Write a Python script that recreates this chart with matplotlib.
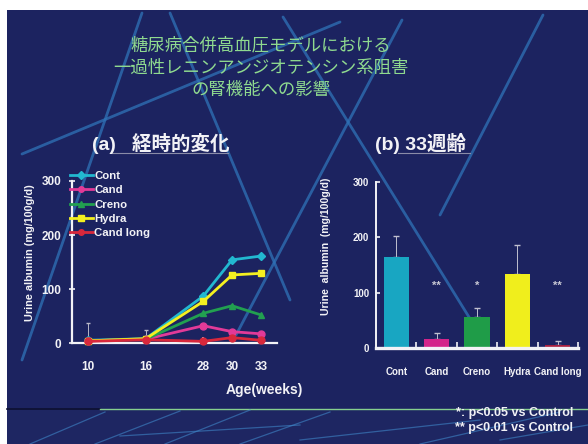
import matplotlib
matplotlib.use("Agg")
import matplotlib.pyplot as plt
from matplotlib.lines import Line2D
from matplotlib.patches import Rectangle
import numpy as np

plt.rcParams['font.family'] = ['Liberation Sans', 'Noto Sans CJK JP', 'DejaVu Sans']

# ---- data -------------------------------------------------------------
weeks = ["10", "16", "28", "30", "33"]
week_pos = [0, 1, 2, 2.5, 3]

cont = [5, 8, 87, 154, 161]
cand = [4, 7, 32, 21, 17]
creno = [4, 7, 55, 69, 52]
hydra = [4, 8, 77, 126, 129]
cand_long = [3, 6, 3, 10, 5]
cont_sd = [32, 17, 0, 0, 0]

groups = ["Cont", "Cand", "Creno", "Hydra", "Cand long"]
wk33_mean = [164, 17, 56, 133, 6]
wk33_sd = [38, 10, 17, 54, 6]
wk33_sig = ["", "**", "*", "", "**"]

title_lines = ["糖尿病合併高血圧モデルにおける",
               "一過性レニンアンジオテンシン系阻害",
               "の腎機能への影響"]

# ---- style --------------------------------------------------------------
W, H = 588, 444
NAVY = "#1c2360"
WHITE = "#f2f2f6"
LINE_BLUE = "#2f73b8"
series_colors = ["#22b8d0", "#e23a98", "#22a050", "#f4f020", "#d8283c"]
series_markers = ["D", "o", "^", "s", "o"]
bar_colors = ["#18a6c2", "#d3248a", "#1f9c48", "#f0ee1c", "#a82040"]


def fx(x):
    return x / W


def fy(y):
    return 1 - y / H


fig = plt.figure(figsize=(W / 100, H / 100), dpi=100)
fig.patch.set_facecolor("white")

# slide background
fig.add_artist(Rectangle((fx(7), 0), 1 - fx(7), fy(10), transform=fig.transFigure,
                         facecolor=NAVY, edgecolor="none", zorder=-3))
fig.add_artist(Rectangle((fx(7), 0), 1 - fx(7), fy(409), transform=fig.transFigure,
                         facecolor="#1e2662", edgecolor="none", zorder=-2.9))
fig.add_artist(Line2D([fx(7), fx(100)], [fy(409), fy(409)], transform=fig.transFigure,
                      color="#0d1030", lw=1.2, zorder=-2))
fig.add_artist(Line2D([fx(100), 1], [fy(408.5), fy(408.5)], transform=fig.transFigure,
                      color="#86cf8e", lw=1.0, zorder=-2))

# decorative background strokes
strokes = [
    ((142, 13), (22, 360)),
    ((22, 154), (340, 22)),
    ((170, 13), (290, 300)),
    ((283, 17), (477, 330)),
    ((402, 20), (236, 335)),
    ((543, 15), (440, 215)),
]
for (x0, y0), (x1, y1) in strokes:
    fig.add_artist(Line2D([fx(x0), fx(x1)], [fy(y0), fy(y1)], transform=fig.transFigure,
                          color=LINE_BLUE, lw=2.0, alpha=0.75, zorder=-1,
                          solid_capstyle="round"))
strip = [
    ((30, 444), (105, 412)), ((95, 444), (180, 411)), ((165, 444), (250, 410)),
    ((240, 444), (330, 412)), ((300, 440), (480, 420)), ((420, 444), (560, 412)),
    ((120, 436), (300, 425)), ((500, 440), (588, 425)),
]
for (x0, y0), (x1, y1) in strip:
    fig.add_artist(Line2D([fx(x0), fx(x1)], [fy(y0), fy(y1)], transform=fig.transFigure,
                          color="#3f86c8", lw=0.9, alpha=0.6, zorder=-1))

# title
for i, t in enumerate(title_lines):
    fig.text(fx(261), fy(45 + 22.5 * i), t, ha="center", va="center", fontsize=12.5,
             color="#8fda8f", family=["Noto Sans CJK JP", "DejaVu Sans"])

# panel captions
fig.text(fx(92), fy(143), "(a)   経時的変化", ha="left", va="center", fontsize=14,
         color=WHITE, fontweight="bold")
fig.add_artist(Line2D([fx(112), fx(228)], [fy(153), fy(153)], transform=fig.transFigure,
                      color="#8a8ca8", lw=0.8))
fig.text(fx(375), fy(143), "(b) 33週齢", ha="left", va="center", fontsize=14,
         color=WHITE, fontweight="bold")
fig.add_artist(Line2D([fx(398), fx(470)], [fy(153), fy(153)], transform=fig.transFigure,
                      color="#8a8ca8", lw=0.8))

# ---- (a) time course -------------------------------------------------
axa = fig.add_axes([fx(72), fy(343), fx(277) - fx(72), fy(181) - fy(343)])
axa.set_facecolor("none")
series = [cont, cand, creno, hydra, cand_long]
for name, vals, c, m in zip(groups, series, series_colors, series_markers):
    ms = 5 if m != "D" else 4.5
    axa.plot(week_pos, vals, color=c, lw=2.0, marker=m, ms=ms, label=name,
             clip_on=False, zorder=3)
axa.errorbar(week_pos, cont, yerr=[np.zeros(len(cont_sd)), cont_sd], fmt="none",
             ecolor="#b8b8c8", elinewidth=0.7, capsize=1.5, zorder=2)
axa.set_xlim(-0.28, 3.28)
axa.set_ylim(0, 300)
axa.set_xticks(week_pos)
axa.set_xticklabels(weeks)
axa.set_yticks([0, 100, 200, 300])
axa.set_yticklabels(["0", "100", "200", "300"])
for s in ["top", "right"]:
    axa.spines[s].set_visible(False)
for s in ["left", "bottom"]:
    axa.spines[s].set_color(WHITE)
    axa.spines[s].set_linewidth(1.6)
axa.tick_params(axis="x", direction="in", length=4, width=1.2, colors=WHITE,
                labelsize=8.5, pad=13)
axa.tick_params(axis="y", direction="inout", length=5, width=1.2, colors=WHITE,
                labelsize=8.5, pad=5)
for lab in axa.get_xticklabels() + axa.get_yticklabels():
    lab.set_fontweight("bold")
axa.set_ylabel("Urine albumin (mg/100g/d)", fontsize=7.8, color=WHITE, fontweight="bold")
axa.yaxis.set_label_coords(-0.18, 0.56)
axa.set_xlabel("Age(weeks)", fontsize=10, color=WHITE, fontweight="bold")
axa.xaxis.set_label_coords(0.937, -0.247)

leg = axa.legend(loc="upper left", bbox_to_anchor=(fx(70), fy(171)),
                 bbox_transform=fig.transFigure, frameon=False, fontsize=8.2,
                 handlelength=2.0, handletextpad=0.15, labelspacing=0.38,
                 borderpad=0, borderaxespad=0, numpoints=1, markerscale=0.8)
for t in leg.get_texts():
    t.set_color(WHITE)
    t.set_fontweight("bold")

# ---- (b) week 33 -----------------------------------------------------
axb = fig.add_axes([fx(376), fy(348), fx(578) - fx(376), fy(182) - fy(348)])
axb.set_facecolor("none")
xb = np.arange(len(groups))
axb.bar(xb, wk33_mean, width=0.62, color=bar_colors, zorder=2)
axb.errorbar(xb, wk33_mean, yerr=[np.zeros(len(wk33_sd)), wk33_sd], fmt="none",
             ecolor="#c0c0d0", elinewidth=0.7, capsize=2, zorder=1)
for x, sig in zip(xb, wk33_sig):
    if sig:
        axb.text(x, 113, sig, ha="center", va="center", fontsize=8,
                 color="#c8c8d4", fontweight="bold")
axb.set_xlim(-0.5, 4.5)
axb.set_ylim(0, 300)
axb.set_xticks(xb)
axb.set_xticklabels(groups)
axb.set_xticks(np.arange(0.5, 5, 1), minor=True)
axb.set_yticks([0, 100, 200, 300])
for s in ["top", "right"]:
    axb.spines[s].set_visible(False)
axb.spines["left"].set_color(WHITE)
axb.spines["left"].set_linewidth(1.4)
axb.spines["bottom"].set_color(WHITE)
axb.spines["bottom"].set_linewidth(2.4)
axb.tick_params(axis="x", which="major", length=0, colors=WHITE, labelsize=7, pad=14)
axb.tick_params(axis="x", which="minor", direction="in", length=4, width=1.2, colors=WHITE)
axb.tick_params(axis="y", direction="in", length=3, width=1.2, colors=WHITE,
                labelsize=7, pad=5)
for lab in axb.get_xticklabels() + axb.get_yticklabels():
    lab.set_fontweight("bold")
axb.set_ylabel("Urine  albumin  (mg/100g/d)", fontsize=7.6, color=WHITE,
               fontweight="bold")
axb.yaxis.set_label_coords(-0.223, 0.61)

# footnotes
fig.text(fx(573), fy(413), "*: p<0.05 vs Control", ha="right", va="center",
         fontsize=9, color=WHITE, fontweight="bold")
fig.text(fx(573), fy(428), "** p<0.01 vs Control", ha="right", va="center",
         fontsize=9, color=WHITE, fontweight="bold")

fig.savefig("out.png", dpi=100, facecolor=fig.get_facecolor())
